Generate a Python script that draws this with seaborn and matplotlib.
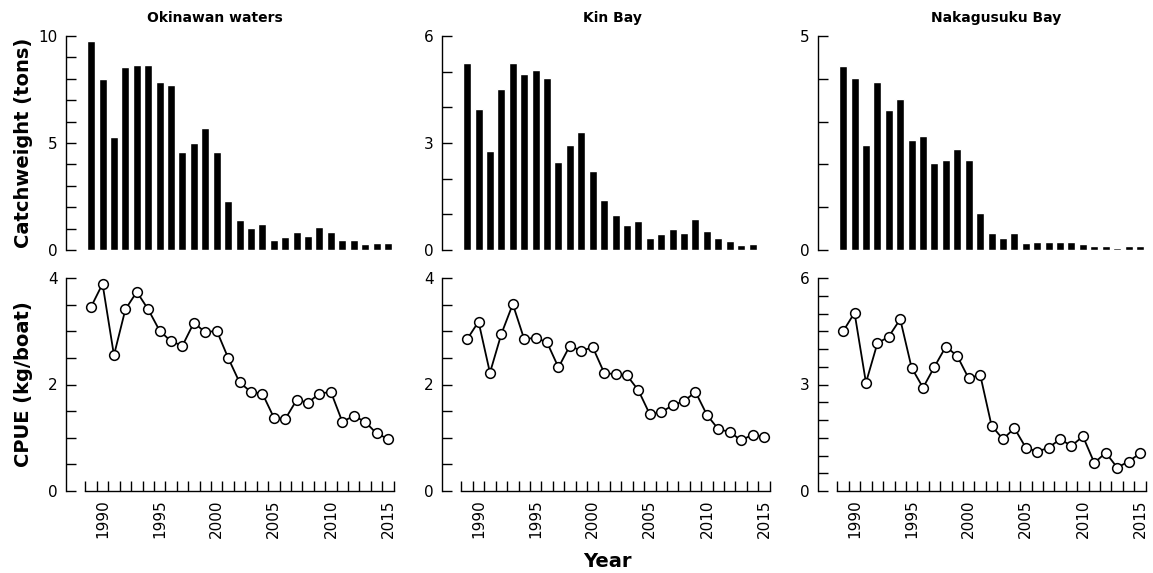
import numpy as np
import matplotlib
matplotlib.use('Agg')
from matplotlib import pyplot as plt
from matplotlib.ticker import MultipleLocator, FixedLocator
import seaborn as sns

# Data
years = list(range(1989, 2016))
panel_titles = ['Okinawan waters', 'Kin Bay', 'Nakagusuku Bay']

catch_okinawa = [9.77, 7.99, 5.28, 8.57, 8.63, 8.63, 7.87, 7.69, 4.58, 5.02, 5.72, 4.58, 2.31,
                 1.42, 1.03, 1.23, 0.47, 0.61, 0.86, 0.65, 1.09, 0.86, 0.47, 0.47, 0.30, 0.31, 0.31]
catch_kin = [5.24, 3.95, 2.78, 4.52, 5.24, 4.94, 5.05, 4.83, 2.48, 2.93, 3.30, 2.21, 1.41,
             0.99, 0.69, 0.81, 0.33, 0.44, 0.59, 0.48, 0.86, 0.52, 0.33, 0.24, 0.13, 0.18]
catch_nakagusuku = [4.31, 4.02, 2.45, 3.93, 3.27, 3.52, 2.57, 2.66, 2.03, 2.10, 2.35, 2.10, 0.86,
                    0.39, 0.28, 0.40, 0.16, 0.19, 0.19, 0.19, 0.19, 0.13, 0.09, 0.09, 0.05, 0.09, 0.09]

cpue_okinawa = [3.46, 3.89, 2.55, 3.41, 3.74, 3.41, 3.01, 2.81, 2.73, 3.16, 2.98, 3.01, 2.50,
                2.04, 1.86, 1.83, 1.38, 1.35, 1.71, 1.66, 1.83, 1.86, 1.30, 1.41, 1.30, 1.08, 0.98]
cpue_kin = [2.85, 3.18, 2.22, 2.95, 3.51, 2.85, 2.88, 2.79, 2.32, 2.73, 2.63, 2.70, 2.22,
            2.19, 2.17, 1.89, 1.44, 1.48, 1.61, 1.69, 1.86, 1.43, 1.16, 1.11, 0.95, 1.06, 1.01]
cpue_nakagusuku = [4.50, 5.02, 3.05, 4.16, 4.35, 4.84, 3.47, 2.91, 3.50, 4.07, 3.80, 3.17, 3.28,
                   1.84, 1.46, 1.77, 1.22, 1.11, 1.22, 1.46, 1.27, 1.54, 0.79, 1.08, 0.66, 0.83, 1.06]

catch_data = [catch_okinawa, catch_kin, catch_nakagusuku]
cpue_data = [cpue_okinawa, cpue_kin, cpue_nakagusuku]
catch_ylim = [(10, 5), (6, 3), (5, 5)]   # (max, major step)
cpue_ylim = [(4, 2), (4, 2), (6, 3)]
catch_minor = [1, 1, 1]
cpue_minor = [0.5, 0.5, 0.5]

sns.set_style('white')
plt.rcParams['font.family'] = ['DejaVu Sans']
plt.rcParams['text.color'] = 'black'
plt.rcParams['axes.labelcolor'] = 'black'

W, H = 1153, 573
fig = plt.figure(figsize=(W / 100, H / 100), dpi=100)

lefts = [66, 442, 818]
width = 330
xlim = (1986.8, 2015.7)
title_x = [0.45, 0.515, 0.54]


def style_yaxis(ax, ymax, major, minor):
    ax.set_ylim(0, ymax)
    ax.yaxis.set_major_locator(MultipleLocator(major))
    ax.yaxis.set_minor_locator(MultipleLocator(minor))
    ax.tick_params(axis='y', which='both', direction='in', length=7, width=1,
                   left=True, labelsize=11, pad=6, colors='black')
    ax.spines['left'].set_color('black')
    ax.spines['left'].set_linewidth(1)
    for s in ['top', 'right']:
        ax.spines[s].set_visible(False)


for i in range(3):
    # Catch weight bars
    ax_top = fig.add_axes([lefts[i] / W, 1 - 250 / H, width / W, 214 / H])
    n = len(catch_data[i])
    sns.barplot(x=years[:n], y=catch_data[i], native_scale=True, color='black',
                width=0.7, saturation=1, ax=ax_top)
    ax_top.set_xlim(*xlim)
    ax_top.set_xticks([])
    ax_top.spines['bottom'].set_visible(False)
    style_yaxis(ax_top, catch_ylim[i][0], catch_ylim[i][1], catch_minor[i])
    ax_top.set_title(panel_titles[i], fontsize=10, fontweight='bold', x=title_x[i], pad=10)
    ax_top.set_xlabel('')

    # CPUE line
    ax_bot = fig.add_axes([lefts[i] / W, 1 - 491 / H, width / W, 213 / H])
    sns.lineplot(x=years, y=cpue_data[i], color='black', linewidth=1.3, marker='o',
                 markersize=7, markerfacecolor='white', markeredgecolor='black',
                 markeredgewidth=1.1, ax=ax_bot)
    ax_bot.set_xlim(*xlim)
    style_yaxis(ax_bot, cpue_ylim[i][0], cpue_ylim[i][1], cpue_minor[i])
    ax_bot.spines['bottom'].set_bounds(1988.5, 2015.5)
    ax_bot.spines['bottom'].set_color('black')
    ax_bot.spines['bottom'].set_linewidth(1)
    ax_bot.xaxis.set_major_locator(FixedLocator([1990, 1995, 2000, 2005, 2010, 2015]))
    ax_bot.xaxis.set_minor_locator(FixedLocator(np.arange(1988.5, 2016, 1.0)))
    ax_bot.tick_params(axis='x', which='major', length=0, labelsize=11, labelrotation=90,
                       pad=6, bottom=True, colors='black')
    ax_bot.tick_params(axis='x', which='minor', direction='in', length=7, width=1,
                       bottom=True, colors='black')
    ax_bot.set_xlabel('')

    if i == 0:
        ax_top.set_ylabel('Catchweight (tons)', fontsize=14, fontweight='bold')
        ax_top.yaxis.set_label_coords(-0.10, 0.5)
        ax_bot.set_ylabel('CPUE (kg/boat)', fontsize=14, fontweight='bold')
        ax_bot.yaxis.set_label_coords(-0.10, 0.5)
    if i == 1:
        ax_bot.set_xlabel('Year', fontsize=14, fontweight='bold', labelpad=10)

fig.savefig('out.png', dpi=100)
